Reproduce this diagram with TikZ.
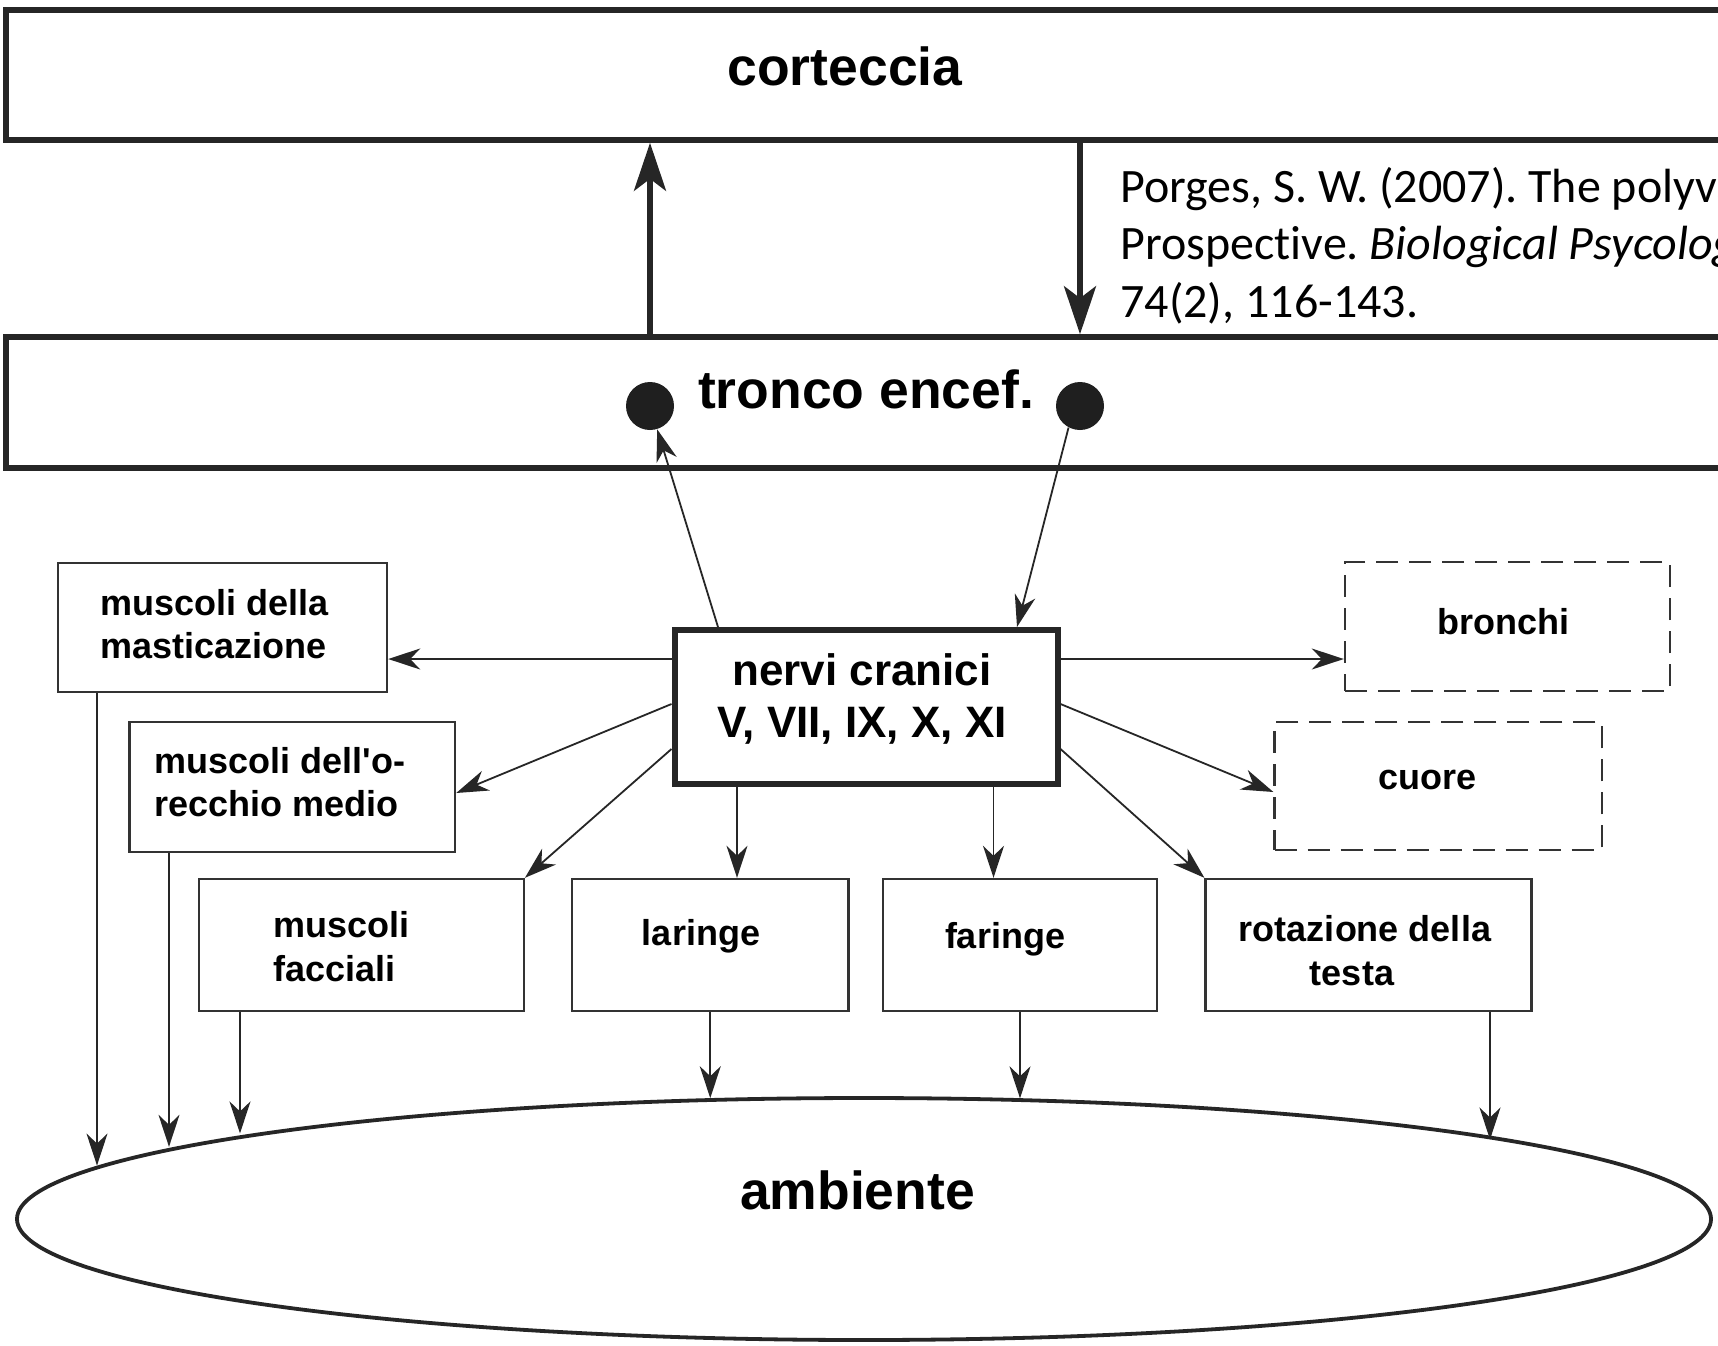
\documentclass[tikz,border=0pt]{standalone}
\usepackage{fontspec}
\setmainfont{Liberation Sans}
\newfontfamily\labelfont{Liberation Sans}
\newfontfamily\citefont{Carlito}[Ligatures=NoCommon]
\usetikzlibrary{arrows.meta,shapes.geometric}
\frenchspacing

\begin{document}
\begin{tikzpicture}[x=0.5pt,y=-0.5pt,
  frame/.style={draw=black!85, line width=2.8pt, rectangle, inner sep=0pt,
    minimum width=877pt, minimum height=65pt},
  hub/.style={draw=black!85, line width=3pt, inner sep=0pt,
    minimum width=191.5pt, minimum height=77pt},
  organ/.style={draw=black!80, line width=1.2pt, inner sep=0pt, minimum height=65pt},
  soft/.style={organ, dash pattern=on 11pt off 5.5pt},
  blob/.style={circle, fill=black!88, inner sep=0pt, minimum size=24pt},
  title/.style={font=\labelfont\bfseries\fontsize{26.75pt}{32pt}\selectfont,
    inner sep=0pt, anchor=base},
  hubtext/.style={font=\labelfont\bfseries\fontsize{22pt}{26pt}\selectfont,
    inner sep=0pt, align=center},
  boxtext/.style={font=\labelfont\bfseries\fontsize{18pt}{21.75pt}\selectfont,
    inner sep=0pt},
  cite/.style={font=\citefont\fontsize{24pt}{28.75pt}\selectfont,
    inner sep=0pt, anchor=base west},
  arr/.style={draw=black!85, line width=0.9pt,
    -{Stealth[length=16pt, width=10.5pt, inset=5pt]}},
  bigarr/.style={draw=black!85, line width=2.75pt,
    -{Stealth[length=24pt, width=16pt, inset=6pt]}},
]
\useasboundingbox (0,0) rectangle (1718,1345);
\fill[white] (0,0) rectangle (1718,1345);
\clip (0,0) rectangle (1718,1345);

% cortex and brainstem bands
\node[frame] (cortex) at (883,75) {};
\node[title] (cortexlbl) at (845,85) {corteccia};
\node[frame, minimum height=65.5pt] (tronco) at (883,402.5) {};
\node[title] (troncolbl) at (866,408) {tronco encef.};
\node[blob] (dotL) at (650,406) {};
\node[blob] (dotR) at (1080,406) {};

\draw[bigarr] (dotL |- tronco.north) -- (dotL |- cortex.south);
\draw[bigarr] (dotR |- cortex.south) -- (dotR |- tronco.north);

% reference
\node[cite] (cite1) at (1120,202) {Porges, S. W. (2007). The polyvagal};
\node[cite] (cite2) at (1120,259.5) {Prospective. \textit{Biological Psycology,}};
\node[cite] (cite3) at (1120,317) {74(2), 116-143.};

% cranial nerves
\node[hub] (nervi) at (866,707) {};
\node[hubtext] (nervilbl) at (862,698.8) {nervi cranici\\V, VII, IX, X, XI};

% effectors
\node[organ, minimum width=164.5pt, minimum height=64.5pt] (mast) at (222.5,627.5) {};
\node[boxtext, align=left, anchor=west] (mastlbl) at (100,624.1) {muscoli della\\masticazione};
\node[organ, minimum width=162.75pt] (orec) at (292.25,787) {};
\node[boxtext, align=left, anchor=west] (oreclbl) at (154,782) {muscoli dell'o-\\recchio medio};
\node[organ, minimum width=162.5pt, minimum height=66pt] (facc) at (361.2,945) {};
\node[boxtext, align=left, anchor=west] (facclbl) at (273,946.6) {muscoli\\facciali};
\node[organ, minimum width=138.25pt, minimum height=66pt] (lar) at (710.25,945) {};
\node[boxtext, anchor=base] (larlbl) at (701,945) {laringe};
\node[organ, minimum width=137pt, minimum height=66pt] (far) at (1020,945) {};
\node[boxtext, anchor=base] (farlbl) at (1005,948) {faringe};
\node[organ, minimum width=163pt, minimum height=66pt] (rot) at (1368.6,945) {};
\node[boxtext, align=center] (rotlbl) at (1365,950.6) {rotazione della\\testa\hspace*{13pt}};
\node[soft, minimum width=163.7pt, minimum height=64pt] (cuore) at (1438.3,786) {};
\node[boxtext, anchor=base] (cuorelbl) at (1427,789) {cuore};
\node[soft, minimum width=162.5pt, minimum height=64.5pt] (bron) at (1507.5,626.5) {};
\node[boxtext, anchor=base] (bronlbl) at (1503,634) {bronchi};

% environment
\node[draw=black!85, line width=1.9pt, ellipse, inner sep=0pt,
  minimum width=847pt, minimum height=121pt] (ell) at (864,1219) {};
\node[title] (elllbl) at (857.5,1209) {ambiente};

% afferent and efferent links with the brainstem
\draw[arr] ([shift={(-148,0)}]nervi.north) -- (dotL);
\draw[arr] (dotR.242) -- ([shift={(151,0)}]nervi.north);

% outputs of the cranial nerves
\coordinate (o1) at ([shift={(0,-48)}]nervi.west);
\draw[arr] (o1) -- (o1 -| mast.east);
\draw[arr] ([shift={(0,-3)}]nervi.west) -- ([shift={(0,6)}]orec.east);
\draw[arr] ([shift={(0,42)}]nervi.west) -- (facc.north east);
\coordinate (o4) at ([shift={(-129,0)}]nervi.south);
\draw[arr] (o4) -- (o4 |- lar.north);
\coordinate (o5) at ([shift={(127.5,0)}]nervi.south);
\draw[arr] (o5) -- (o5 |- far.north);
\draw[arr] ([shift={(0,42)}]nervi.east) -- (rot.north west);
\draw[arr] ([shift={(0,-3)}]nervi.east) -- ([shift={(0,6)}]cuore.west);
\coordinate (o8) at ([shift={(0,-48)}]nervi.east);
\draw[arr] (o8) -- (o8 -| bron.west);

% effectors acting on the environment
\coordinate (e1) at ([shift={(-125.5,0)}]mast.south);
\draw[arr] (e1) -- (e1 |- ell.176.17);
\coordinate (e2) at ([shift={(-123.25,0)}]orec.south);
\draw[arr] (e2) -- (e2 |- ell.174.31);
\coordinate (e3) at ([shift={(-121.2,0)}]facc.south);
\draw[arr] (e3) -- (e3 |- ell.172.53);
\draw[arr] (lar.south) -- (lar.south |- ell.142.5);
\draw[arr] (far.south) -- (far.south |- ell.37.32);
\coordinate (e6) at ([shift={(121.4,0)}]rot.south);
\draw[arr] (e6) -- (e6 |- ell.7.42);
\end{tikzpicture}
\end{document}
